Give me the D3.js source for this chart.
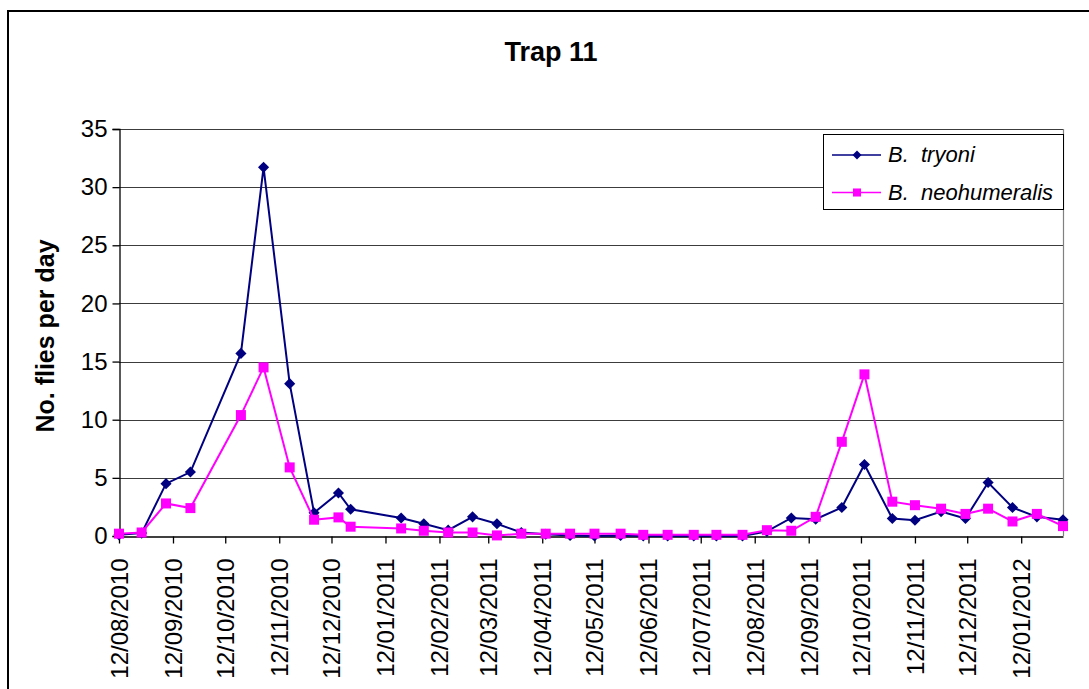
<!DOCTYPE html>
<html>
<head>
<meta charset="utf-8">
<script src="https://cdn.jsdelivr.net/npm/d3@7"></script>
<style>
  html, body { margin: 0; padding: 0; background: #fff; }
  svg { display: block; font-family: "Liberation Sans", Arial, sans-serif; }
</style>
</head>
<body>
<svg id="chart" width="1089" height="689"></svg>
<script>
// ---- data ----
const sampleDates = [
  "2010-08-12","2010-08-25","2010-09-08","2010-09-22","2010-10-21","2010-11-03",
  "2010-11-18","2010-12-02","2010-12-16","2010-12-23","2011-01-21","2011-02-03",
  "2011-02-17","2011-03-03","2011-03-17","2011-03-31","2011-04-14","2011-04-28",
  "2011-05-12","2011-05-27","2011-06-09","2011-06-23","2011-07-08","2011-07-21",
  "2011-08-05","2011-08-19","2011-09-02","2011-09-16","2011-10-01","2011-10-14",
  "2011-10-30","2011-11-12","2011-11-27","2011-12-11","2011-12-24","2012-01-07",
  "2012-01-21","2012-02-05"
];
const tryoni = [
  0.1, 0.25, 4.5, 5.5, 15.7, 31.7,
  13.1, 2.0, 3.7, 2.3, 1.55, 1.05,
  0.5, 1.65, 1.05, 0.3, 0.15, 0.05,
  0.0, 0.05, 0.0, 0.0, 0.0, 0.0,
  0.0, 0.4, 1.55, 1.45, 2.45, 6.15,
  1.5, 1.35, 2.1, 1.5, 4.6, 2.45,
  1.65, 1.4
];
const neohumeralis = [
  0.2, 0.3, 2.8, 2.4, 10.4, 14.5,
  5.9, 1.4, 1.6, 0.8, 0.65, 0.45,
  0.3, 0.3, 0.05, 0.2, 0.2, 0.2,
  0.2, 0.2, 0.1, 0.1, 0.1, 0.1,
  0.1, 0.5, 0.45, 1.65, 8.1, 13.9,
  2.95, 2.65, 2.35, 1.9, 2.35, 1.25,
  1.9, 0.85
];
const xTickLabels = [
  "12/08/2010","12/09/2010","12/10/2010","12/11/2010","12/12/2010",
  "12/01/2011","12/02/2011","12/03/2011","12/04/2011","12/05/2011",
  "12/06/2011","12/07/2011","12/08/2011","12/09/2011","12/10/2011",
  "12/11/2011","12/12/2011","12/01/2012"
];
const yTicks = [0, 5, 10, 15, 20, 25, 30, 35];
const seriesNames = ["B. tryoni", "B. neohumeralis"];
const titleText = "Trap 11";
const yTitle = "No. flies per day";

// ---- setup ----
const parseISO = d3.timeParse("%Y-%m-%d");
const parseTick = d3.timeParse("%d/%m/%Y");
const dates = sampleDates.map(parseISO);

const pLeft = 119, pRight = 1063, pTop = 129, pBottom = 536;
const svg = d3.select("#chart");

const x = d3.scaleTime()
  .domain([dates[0], dates[dates.length - 1]])
  .range([pLeft, pRight]);
const y = d3.scaleLinear().domain([0, 35]).range([pBottom, pTop]);

// outer border
svg.append("rect")
  .attr("x", 8).attr("y", 11).attr("width", 1200).attr("height", 800)
  .attr("fill", "none").attr("stroke", "#000").attr("stroke-width", 2);

// title
svg.append("text")
  .attr("x", 551).attr("y", 61)
  .attr("text-anchor", "middle")
  .attr("font-size", 27).attr("font-weight", "bold")
  .text(titleText);

// gridlines
svg.append("g").selectAll("line")
  .data(yTicks.filter(t => t > 0))
  .join("line")
  .attr("x1", pLeft).attr("x2", pRight)
  .attr("y1", d => Math.round(y(d)) + 0.5).attr("y2", d => Math.round(y(d)) + 0.5)
  .attr("stroke", "#3c3c3c").attr("stroke-width", 1);

// plot area right border
svg.append("line")
  .attr("x1", pRight + 0.5).attr("x2", pRight + 0.5)
  .attr("y1", pTop).attr("y2", pBottom)
  .attr("stroke", "#808080").attr("stroke-width", 1.2);

// y axis
const yAxis = d3.axisLeft(y).tickValues(yTicks).tickSize(7).tickPadding(5);
const gy = svg.append("g").attr("transform", `translate(${pLeft + 0.5},0)`).call(yAxis);
gy.select(".domain").attr("stroke", "#000").attr("stroke-width", 1.3);
gy.selectAll(".tick line").attr("stroke", "#000").attr("stroke-width", 1.3);
gy.selectAll(".tick text")
  .attr("font-size", 24).attr("font-family", "Liberation Sans, Arial, sans-serif")
  .attr("fill", "#000");

// x axis
const tickDates = xTickLabels.map(parseTick);
const xAxis = d3.axisBottom(x).tickValues(tickDates).tickSize(7).tickSizeOuter(0)
  .tickFormat((d, i) => xTickLabels[i]);
const gx = svg.append("g").attr("transform", `translate(0,${pBottom + 0.5})`).call(xAxis);
gx.select(".domain").attr("stroke", "#000").attr("stroke-width", 1.3);
gx.selectAll(".tick line").attr("stroke", "#000").attr("stroke-width", 1.3);
gx.selectAll(".tick text")
  .attr("font-size", 24).attr("font-family", "Liberation Sans, Arial, sans-serif")
  .attr("fill", "#000")
  .attr("text-anchor", "end")
  .attr("transform", "rotate(-90)")
  .attr("x", -22).attr("y", 0).attr("dy", "0.35em");

// y title
svg.append("text")
  .attr("transform", "translate(54,336) rotate(-90)")
  .attr("text-anchor", "middle")
  .attr("font-size", 25).attr("font-weight", "bold")
  .text(yTitle);

// series
const series = [
  { name: seriesNames[0], values: tryoni, color: "#000080", symbol: d3.symbolSquare, size: 62, rot: 45 },
  { name: seriesNames[1], values: neohumeralis, color: "#FF00FF", symbol: d3.symbolSquare, size: 100, rot: 0 }
];
const line = d3.line().x((d, i) => x(dates[i])).y(d => y(d));

series.forEach(s => {
  const g = svg.append("g");
  g.append("path")
    .datum(s.values)
    .attr("d", line)
    .attr("fill", "none").attr("stroke", s.color).attr("stroke-width", 2);
  g.selectAll("path.m")
    .data(s.values)
    .join("path")
    .attr("class", "m")
    .attr("transform", (d, i) => `translate(${x(dates[i])},${y(d)}) rotate(${s.rot})`)
    .attr("d", d3.symbol().type(s.symbol).size(s.size))
    .attr("fill", s.color);
});

// legend
const lg = svg.append("g");
lg.append("rect")
  .attr("x", 823.5).attr("y", 134.5).attr("width", 240).attr("height", 75)
  .attr("fill", "#fff").attr("stroke", "#000").attr("stroke-width", 1);
series.forEach((s, i) => {
  const ly = 155 + i * 37.5;
  lg.append("line")
    .attr("x1", 832).attr("x2", 881).attr("y1", ly).attr("y2", ly)
    .attr("stroke", s.color).attr("stroke-width", 1.6);
  lg.append("path")
    .attr("transform", `translate(857,${ly}) rotate(${s.rot})`)
    .attr("d", d3.symbol().type(s.symbol).size(s.size * 0.65))
    .attr("fill", s.color);
  lg.append("text")
    .attr("x", 888).attr("y", ly + 7)
    .attr("font-size", 22).attr("font-style", "italic")
    .attr("xml:space", "preserve")
    .text(s.name.replace(". ", ".  "));
});
</script>
</body>
</html>
